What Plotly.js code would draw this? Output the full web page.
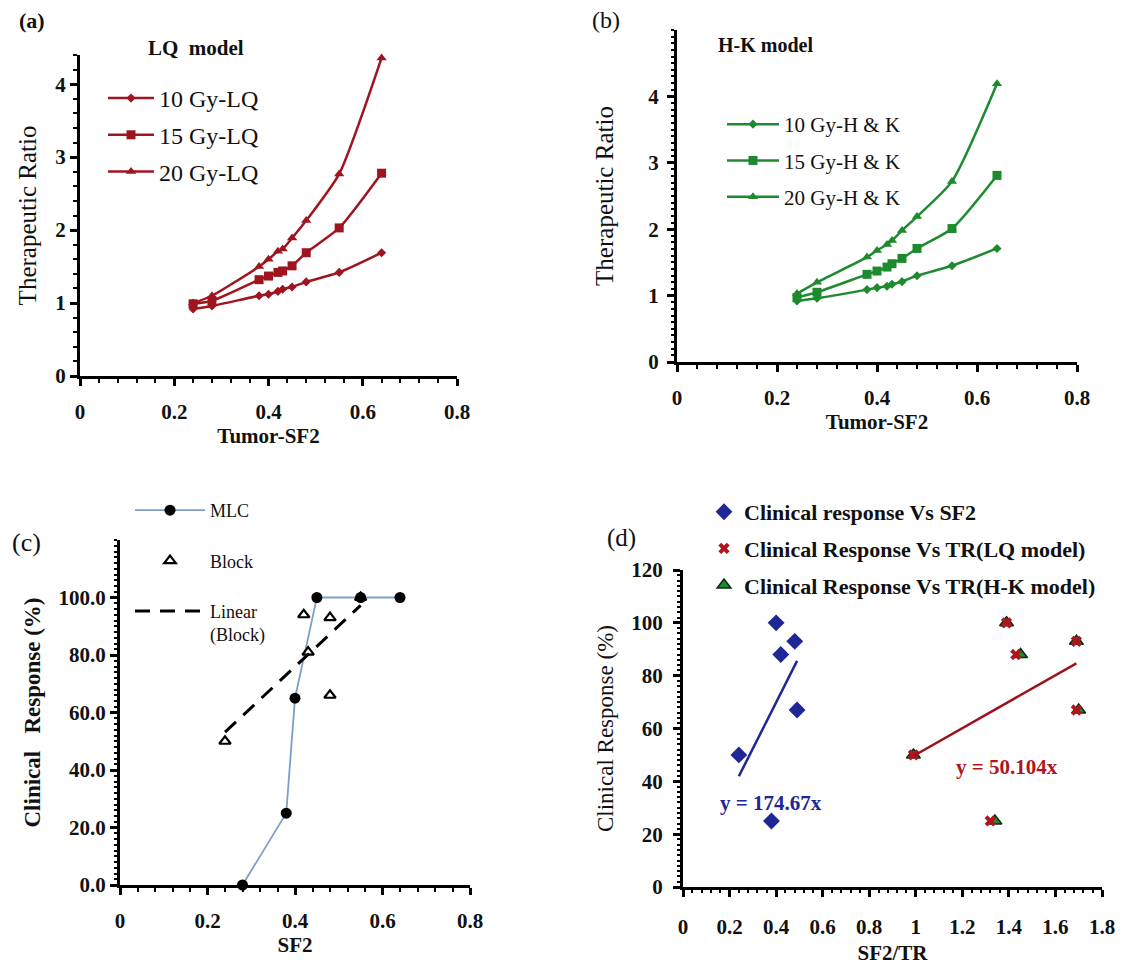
<!DOCTYPE html>
<html><head><meta charset="utf-8">
<script src="https://cdn.plot.ly/plotly-3.0.1.min.js"></script>
<style>html,body{margin:0;padding:0;background:#fff}#chart{width:1131px;height:968px}</style>
</head><body><div id="chart"></div><script>
// ---------- data ----------
const sf2 = [0.24, 0.28, 0.38, 0.40, 0.42, 0.43, 0.45, 0.48, 0.55, 0.64];
const lq10 = [0.92, 0.96, 1.10, 1.12, 1.16, 1.19, 1.22, 1.29, 1.42, 1.69];
const lq15 = [0.99, 1.03, 1.32, 1.37, 1.42, 1.44, 1.51, 1.69, 2.03, 2.78];
const lq20 = [1.00, 1.10, 1.50, 1.60, 1.71, 1.74, 1.89, 2.13, 2.77, 4.36];
const hk10 = [0.92, 0.96, 1.09, 1.12, 1.14, 1.17, 1.21, 1.30, 1.45, 1.71];
const hk15 = [0.97, 1.05, 1.32, 1.37, 1.43, 1.48, 1.56, 1.71, 2.01, 2.81];
const hk20 = [1.03, 1.20, 1.58, 1.68, 1.77, 1.83, 1.98, 2.19, 2.72, 4.19];
const lqNames = ['10 Gy-LQ', '15 Gy-LQ', '20 Gy-LQ'];
const hkNames = ['10 Gy-H &amp; K', '15 Gy-H &amp; K', '20 Gy-H &amp; K'];
const trTicks = [0, 1, 2, 3, 4];

const mlcX = [0.28, 0.38, 0.40, 0.45, 0.55, 0.64];
const mlcY = [0, 25, 65, 100, 100, 100];
const blockX = [0.24, 0.42, 0.43, 0.48, 0.48, 0.55];
const blockY = [50, 94, 81, 93, 66, 100];
const cNames = ['MLC', 'Block', 'Linear<br>(Block)'];
const cTickVals = [0, 20, 40, 60, 80, 100];
const cTickText = ['0.0', '20.0', '40.0', '60.0', '80.0', '100.0'];

const dSF2 = [0.24, 0.38, 0.40, 0.42, 0.48, 0.49];
const dResp = [50, 25, 100, 88, 93, 67];
const dTRLQ = [0.99, 1.32, 1.39, 1.43, 1.69, 1.69];
const dTRHK = [0.99, 1.34, 1.39, 1.45, 1.69, 1.70];
const slopeSF2 = 174.67;
const slopeLQ = 50.104;
const dNames = ['Clinical response Vs SF2', 'Clinical Response Vs TR(LQ model)', 'Clinical Response Vs TR(H-K model)'];

// ---------- helpers ----------
const FONT = 'Liberation Serif';
const RED = '#9e1520', GREEN = '#1d8a2e', BLUE = '#1f2796';

// least-squares linear trendline (Excel "Linear" trendline)
function linFit(xs, ys) {
  const n = xs.length;
  const mx = xs.reduce((a, b) => a + b, 0) / n, my = ys.reduce((a, b) => a + b, 0) / n;
  let sxy = 0, sxx = 0;
  for (let i = 0; i < n; i++) { sxy += (xs[i] - mx) * (ys[i] - my); sxx += (xs[i] - mx) ** 2; }
  const b = sxy / sxx, a = my - b * mx;
  const x0 = Math.min(...xs), x1 = Math.max(...xs);
  return { x: [x0, x1], y: [a + b * x0, a + b * x1] };
}
function throughOrigin(xs, k) {
  const x0 = Math.min(...xs), x1 = Math.max(...xs);
  return { x: [x0, x1], y: [k * x0, k * x1] };
}
const f = (size, weight, color) => ({ family: FONT, size, color: color || '#111', weight: weight || 'normal' });

function axis(domain, range, extra) {
  return Object.assign({
    domain, range, showline: true, linecolor: '#000', linewidth: 3, mirror: false,
    ticks: 'outside', ticklen: 7, tickwidth: 3, tickcolor: '#000',
    showgrid: false, zeroline: false, automargin: false,
    tickfont: f(21, 'bold')
  }, extra);
}
function minor(d, len) { return { tickmode: 'linear', tick0: 0, dtick: d, ticks: 'outside', ticklen: len || 4, tickwidth: 2, tickcolor: '#000', showgrid: false }; }

const traces = [];
const sym = ['diamond', 'square', 'triangle-up'];
const sz = [7, 9, 9];
[lq10, lq15, lq20].forEach((ys, i) => traces.push({
  x: sf2, y: ys, name: lqNames[i], type: 'scatter', mode: 'lines+markers', xaxis: 'x', yaxis: 'y',
  line: { color: RED, width: 2.5, shape: 'spline', smoothing: 0.6 }, marker: { symbol: sym[i], size: sz[i], color: RED },
  legend: 'legend', legendgroup: 'a' + i, cliponaxis: false
}));
[hk10, hk15, hk20].forEach((ys, i) => traces.push({
  x: sf2, y: ys, name: hkNames[i], type: 'scatter', mode: 'lines+markers', xaxis: 'x2', yaxis: 'y2',
  line: { color: GREEN, width: 2.5, shape: 'spline', smoothing: 0.6 }, marker: { symbol: sym[i], size: sz[i], color: GREEN },
  legend: 'legend2', legendgroup: 'b' + i, cliponaxis: false
}));
const blockFit = linFit(blockX, blockY);
traces.push({
  x: mlcX, y: mlcY, name: cNames[0], type: 'scatter', mode: 'lines+markers', xaxis: 'x3', yaxis: 'y3',
  line: { color: '#7f9fc6', width: 1.8 }, marker: { symbol: 'circle', size: 11, color: '#000' },
  legend: 'legend3', legendgroup: 'c0', cliponaxis: false
});
traces.push({
  x: blockX, y: blockY, name: cNames[1], type: 'scatter', mode: 'markers', xaxis: 'x3', yaxis: 'y3',
  marker: { symbol: 'triangle-up-open', size: 10, color: '#000', line: { width: 2.2, color: '#000' } },
  legend: 'legend3', legendgroup: 'c1', cliponaxis: false
});
traces.push({
  x: blockFit.x, y: blockFit.y, name: cNames[2], type: 'scatter', mode: 'lines', xaxis: 'x3', yaxis: 'y3',
  line: { color: '#000', width: 3, dash: '15px,10px' }, legend: 'legend3', legendgroup: 'c2'
});
const fitSF2 = throughOrigin(dSF2, slopeSF2);
const fitLQ = throughOrigin(dTRLQ, slopeLQ);
traces.push({
  x: dSF2, y: dResp, name: dNames[0], type: 'scatter', mode: 'markers', xaxis: 'x4', yaxis: 'y4',
  marker: { symbol: 'diamond', size: 13, color: BLUE }, legend: 'legend4', legendgroup: 'd0', legendrank: 1
});
traces.push({
  x: dTRHK, y: dResp, name: dNames[2], type: 'scatter', mode: 'markers', xaxis: 'x4', yaxis: 'y4',
  marker: { symbol: 'triangle-up', size: 12, color: GREEN, line: { width: 1.5, color: '#0b2a10' } },
  legend: 'legend4', legendgroup: 'd2', legendrank: 3
});
traces.push({
  x: dTRLQ, y: dResp, name: dNames[1], type: 'scatter', mode: 'markers', xaxis: 'x4', yaxis: 'y4',
  marker: { symbol: 'x', size: 10, color: '#b0141e', line: { width: 0 } }, legend: 'legend4', legendgroup: 'd1', legendrank: 2
});
traces.push({
  x: fitSF2.x, y: fitSF2.y, type: 'scatter', mode: 'lines', xaxis: 'x4', yaxis: 'y4', showlegend: false,
  line: { color: BLUE, width: 2.5 }
});
traces.push({
  x: fitLQ.x, y: fitLQ.y, type: 'scatter', mode: 'lines', xaxis: 'x4', yaxis: 'y4', showlegend: false,
  line: { color: '#a01018', width: 2.5 }
});

const W = 1131, H = 968;
const px = v => v / W, py = v => 1 - v / H;
function leg(x, y, gap, font, iw, valign) { return { x: px(x), y: py(y), xanchor: 'left', yanchor: 'top', bgcolor: 'rgba(0,0,0,0)', font, tracegroupgap: gap, itemwidth: iw || 40, traceorder: 'grouped', valign: valign || 'middle' }; }
function ann(text, x, y, font) {
  return { text, x: px(x), y: py(y), xref: 'paper', yref: 'paper', xanchor: 'center', yanchor: 'middle', showarrow: false, font };
}

const layout = {
  width: W, height: H, margin: { l: 0, r: 0, t: 0, b: 0 }, paper_bgcolor: '#fff', plot_bgcolor: 'rgba(0,0,0,0)',
  font: { family: FONT, color: '#111' },
  xaxis: axis([px(80), px(457)], [0, 0.8], { dtick: 0.2, tick0: 0, minor: minor(0.04), anchor: 'y', ticklabelstandoff: 8,
    title: { text: 'Tumor-SF2', standoff: 6, font: f(21, 'bold') } }),
  yaxis: axis([py(376), py(55)], [0, 4.4], { tickvals: trTicks, minor: minor(0.2), anchor: 'x',
    title: { text: 'Therapeutic Ratio', standoff: 12, font: f(25) } }),
  xaxis2: axis([px(677), px(1077)], [0, 0.8], { dtick: 0.2, tick0: 0, minor: minor(0.04), anchor: 'y2', ticklabelstandoff: 8,
    title: { text: 'Tumor-SF2', standoff: 0, font: f(21, 'bold') } }),
  yaxis2: axis([py(362), py(30)], [0, 5], { tickvals: trTicks, minor: minor(0.1, 3), anchor: 'x2', ticklabelstandoff: 4,
    title: { text: 'Therapeutic Ratio', standoff: 28, font: f(25) } }),
  xaxis3: axis([px(120), px(470)], [0, 0.8], { dtick: 0.2, tick0: 0, minor: minor(0.04), anchor: 'y3', ticklabelstandoff: 8,
    title: { text: 'SF2', standoff: 2, font: f(21, 'bold') } }),
  yaxis3: axis([py(885), py(540)], [0, 120], { tickvals: cTickVals, ticktext: cTickText, minor: minor(2, 3), anchor: 'x3',
    title: { text: 'Clinical   Response (%)', standoff: 12, font: f(23, 'bold') } }),
  xaxis4: axis([px(683), px(1102)], [0, 1.8], { dtick: 0.2, tick0: 0, minor: minor(0.04, 3), anchor: 'y4', ticklabelstandoff: 12,
    title: { text: 'SF2/TR', standoff: 8, font: f(21, 'bold') } }),
  yaxis4: axis([py(887), py(570)], [0, 120], { dtick: 20, tick0: 0, minor: minor(2, 3), anchor: 'x4', ticklabelstandoff: 6,
    title: { text: 'Clinical Response (%)', standoff: 12, font: f(23) } }),
  legend: leg(103, 76, 2.5, f(24), 46),
  legend2: leg(722, 104, 6, f(21), 52),
  legend3: leg(130, 492, 24, f(18), 70, 'top'),
  legend4: leg(704, 491, 5, f(22, 'bold'), 14),
  annotations: [
    ann('(a)', 32, 20, f(22, 'bold')),
    ann('LQ  model', 196, 48, f(21, 'bold')),
    ann('(b)', 606, 20, f(24)),
    ann('H-K model', 765, 45, f(20, 'bold')),
    ann('(c)', 27, 542, f(26)),
    ann('(d)', 621, 538, f(25)),
    ann('y = 174.67x', 771, 803, f(21, 'bold', BLUE)),
    ann('y = 50.104x', 1007, 767, f(21, 'bold', '#b0141e'))
  ]
};
Plotly.newPlot('chart', traces, layout, { staticPlot: true, displayModeBar: false });
</script></body></html>
